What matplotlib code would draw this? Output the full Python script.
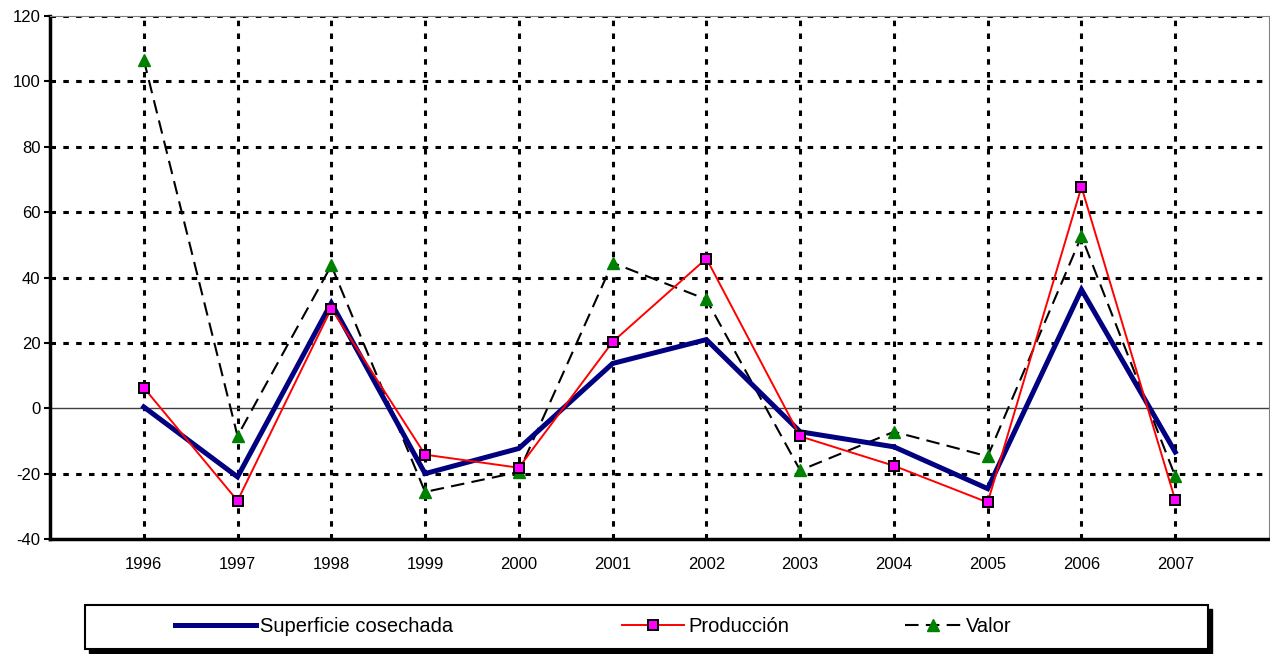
import numpy as np
import matplotlib.pyplot as plt
from matplotlib.patches import Rectangle

plt.rcParams['font.family'] = ['Liberation Sans', 'DejaVu Sans']
plt.rcParams['axes.unicode_minus'] = False

years = ['1996', '1997', '1998', '1999', '2000', '2001',
         '2002', '2003', '2004', '2005', '2006', '2007']
superficie = [0.4, -21.0, 32.2, -20.0, -12.3, 13.7, 21.0, -7.2, -11.8, -24.6, 36.3, -13.4]
produccion = [6.3, -28.3, 30.5, -14.2, -18.2, 20.3, 45.8, -8.6, -17.6, -28.8, 67.7, -28.1]
valor = [106.6, -8.5, 43.7, -25.6, -19.5, 44.5, 33.3, -19.0, -7.2, -14.7, 52.6, -20.8]
y_ticks = [-40, -20, 0, 20, 40, 60, 80, 100, 120]

W, H = 1270, 654
fig = plt.figure(figsize=(W / 100, H / 100), dpi=100)
ax = fig.add_axes([50 / W, (H - 539) / H, 1219 / W, 523 / H])

x = np.arange(1, len(years) + 1)
grid_style = dict(color='black', lw=2.2, ls=(0, (1.8, 2.4)), zorder=1)
for yy in y_ticks[1:]:
    if yy != 0:
        ax.axhline(yy, **grid_style)
for xx in x:
    ax.axvline(xx, **grid_style)
ax.axhline(0, color='#404040', lw=1.0, zorder=1.5)

ax.plot(x, superficie, color='#000080', lw=3.6, zorder=3,
        solid_joinstyle='miter', label='Superficie cosechada')
ax.plot(x, produccion, color='red', lw=1.4, zorder=4, marker='s', ms=7.5,
        mfc='#ff00ff', mec='black', mew=1.4, label='Producción')
ax.plot(x, valor, color='black', lw=1.5, ls=(0, (6.5, 3.5)), zorder=2,
        marker='^', ms=8, mfc='green', mec='green', label='Valor')

ax.set_xlim(0, len(years) + 1)
ax.set_ylim(-40, 120)
ax.set_yticks(y_ticks)
ax.set_xticks(x)
ax.set_xticklabels(years)
ax.tick_params(axis='x', length=0, pad=13, labelsize=12)
ax.tick_params(axis='y', length=4, width=1.5, direction='out', pad=3, labelsize=12)

ax.spines['left'].set_linewidth(2.5)
ax.spines['bottom'].set_linewidth(2.5)
ax.spines['top'].set_color('#808080')
ax.spines['top'].set_linewidth(0.8)
ax.spines['right'].set_color('#808080')
ax.spines['right'].set_linewidth(0.8)

# legend box with shadow
bx0, by0, bw, bh = 85 / W, (H - 649) / H, 1123 / W, 44 / H
fig.patches.append(Rectangle((bx0 + 4 / W, by0 - 4 / H), bw, bh, transform=fig.transFigure,
                             facecolor='black', edgecolor='black', zorder=1))
fig.patches.append(Rectangle((bx0, by0), bw, bh, transform=fig.transFigure,
                             facecolor='white', edgecolor='black', lw=1.5, zorder=2))

handles = ax.get_lines()[-3:]
entries = [(handles[0], 'Superficie cosechada', 175, 4.0),
           (handles[1], 'Producción', 622, 3.1),
           (handles[2], 'Valor', 905, 2.8)]
for h, lab, x0, hl in entries:
    leg = fig.legend([h], [lab], loc='center left',
                     bbox_to_anchor=(x0 / W, (H - 627) / H),
                     frameon=False, fontsize=14.5, handlelength=hl,
                     handletextpad=0.2, borderpad=0, borderaxespad=0,
                     numpoints=1)
    leg.set_zorder(5)

fig.savefig('out.png', dpi=100)
